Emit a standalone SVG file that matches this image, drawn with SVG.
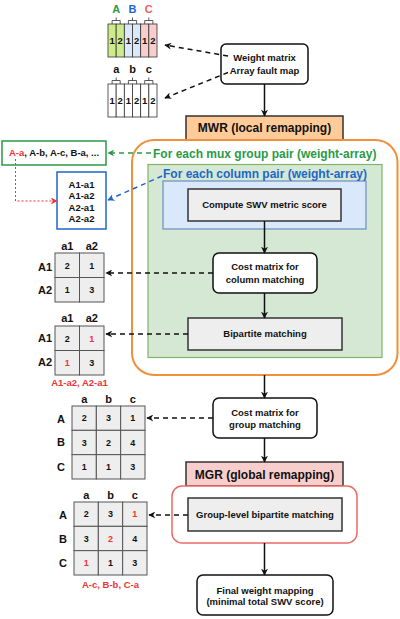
<svg xmlns="http://www.w3.org/2000/svg" width="400" height="619" viewBox="0 0 400 619">
<defs>
<style>
text{font-family:"Liberation Sans",Arial,sans-serif;font-weight:bold;fill:#111}
.t{font-size:9.5px;text-anchor:middle}
.h{font-size:11px;text-anchor:middle}
.big{font-size:12px}
.c{font-size:9px;text-anchor:middle}
.red{fill:#ee3333}
.box{fill:#fff;stroke:#111;stroke-width:1.5}
.gray{fill:#eeeeee;stroke:#333;stroke-width:1.5}
.cell{fill:#eeeeee;stroke:#555;stroke-width:1}
.col{stroke:#333;stroke-width:0.8}
.br{fill:none;stroke:#333;stroke-width:0.8}
.solid{fill:none;stroke:#111;stroke-width:1.5;marker-end:url(#ah)}
.dash{fill:none;stroke:#111;stroke-width:1.5;stroke-dasharray:5,4;marker-end:url(#ah)}
</style>
<marker id="ah" viewBox="0 0 10 10" refX="9" refY="5" markerWidth="7" markerHeight="7" orient="auto" markerUnits="userSpaceOnUse">
<path d="M0,0 L10,5 L0,10 L3,5 Z" fill="#111"/>
</marker>
<marker id="ahg" viewBox="0 0 10 10" refX="9" refY="5" markerWidth="7" markerHeight="7" orient="auto" markerUnits="userSpaceOnUse">
<path d="M0,0 L10,5 L0,10 L3,5 Z" fill="#2a9a46"/>
</marker>
<marker id="ahb" viewBox="0 0 10 10" refX="9" refY="5" markerWidth="7" markerHeight="7" orient="auto" markerUnits="userSpaceOnUse">
<path d="M0,0 L10,5 L0,10 L3,5 Z" fill="#1f66cc"/>
</marker>
<marker id="ahr" viewBox="0 0 10 10" refX="9" refY="5" markerWidth="7" markerHeight="7" orient="auto" markerUnits="userSpaceOnUse">
<path d="M0,0 L10,5 L0,10 L3,5 Z" fill="#ee3333"/>
</marker>
</defs>
<rect width="400" height="619" fill="#fff"/>

<!-- arrays -->
<g id="array-weight">
<text class="h" x="116.2" y="12.5" style="fill:#2a9a46">A</text>
<text class="h" x="132.5" y="12.5" style="fill:#1f66cc">B</text>
<text class="h" x="148.8" y="12.5" style="fill:#f06060">C</text>
<path class="br" d="M112.1,24V20.5H120.2V24M116.2,20.5V17.5M128.4,24V20.5H136.6V24M132.5,20.5V17.5M144.7,24V20.5H152.9V24M148.8,20.5V17.5"/>
<rect class="col" x="108" y="24" width="8.17" height="33" fill="#cdeb8b"/>
<rect class="col" x="116.17" y="24" width="8.17" height="33" fill="#cdeb8b"/>
<rect class="col" x="124.33" y="24" width="8.17" height="33" fill="#dae8fc"/>
<rect class="col" x="132.5" y="24" width="8.17" height="33" fill="#dae8fc"/>
<rect class="col" x="140.67" y="24" width="8.17" height="33" fill="#f8cecc"/>
<rect class="col" x="148.83" y="24" width="8.17" height="33" fill="#f8cecc"/>
<text class="t" x="112.1" y="44">1</text><text class="t" x="120.2" y="44">2</text>
<text class="t" x="128.4" y="44">1</text><text class="t" x="136.6" y="44">2</text>
<text class="t" x="144.7" y="44">1</text><text class="t" x="152.9" y="44">2</text>
</g>
<g id="array-fault">
<text class="h" x="116.2" y="73">a</text>
<text class="h" x="132.5" y="73">b</text>
<text class="h" x="148.8" y="73">c</text>
<path class="br" d="M112.1,84V80.5H120.2V84M116.2,80.5V77.5M128.4,84V80.5H136.6V84M132.5,80.5V77.5M144.7,84V80.5H152.9V84M148.8,80.5V77.5"/>
<rect class="col" x="108" y="84" width="8.17" height="33" fill="#fff"/>
<rect class="col" x="116.17" y="84" width="8.17" height="33" fill="#fff"/>
<rect class="col" x="124.33" y="84" width="8.17" height="33" fill="#fff"/>
<rect class="col" x="132.5" y="84" width="8.17" height="33" fill="#fff"/>
<rect class="col" x="140.67" y="84" width="8.17" height="33" fill="#fff"/>
<rect class="col" x="148.83" y="84" width="8.17" height="33" fill="#fff"/>
<text class="t" x="112.1" y="104">1</text><text class="t" x="120.2" y="104">2</text>
<text class="t" x="128.4" y="104">1</text><text class="t" x="136.6" y="104">2</text>
<text class="t" x="144.7" y="104">1</text><text class="t" x="152.9" y="104">2</text>
</g>

<!-- main flow -->
<g id="input">
<rect class="box" x="221" y="44" width="87" height="40" rx="5"/>
<text class="t" x="264.5" y="61.4">Weight matrix</text>
<text class="t" x="264.5" y="74.4">Array fault map</text>
</g>
<g id="mwr">
<rect x="186" y="116" width="157" height="24" fill="#ffcc99" stroke="#333" stroke-width="1.5"/>
<text class="big" x="264.5" y="132.3" text-anchor="middle">MWR (local remapping)</text>
</g>
<g id="mux-loop">
<rect x="132" y="140" width="265.5" height="235" rx="22" fill="#fff" stroke="#f0903a" stroke-width="2"/>
<text class="big" x="153" y="158.3" style="fill:#2a9a46">For each mux group pair (weight-array)</text>
</g>
<g id="column-loop">
<rect x="148" y="164.5" width="234" height="193" fill="#d5e8d4" stroke="#82b366" stroke-width="1.2"/>
<rect x="163" y="181" width="203" height="48" fill="#dae8fc" stroke="#6c8ebf" stroke-width="1.2"/>
<text class="big" x="163" y="178.3" style="fill:#1f66cc">For each column pair (weight-array)</text>
</g>
<g id="swv">
<rect class="gray" x="188" y="189" width="153" height="32"/>
<text class="t" x="264.5" y="208.4">Compute SWV metric score</text>
</g>
<g id="cost-col">
<rect class="box" x="213" y="253" width="104" height="40" rx="6"/>
<text class="t" x="265" y="270.4">Cost matrix for</text>
<text class="t" x="265" y="283">column matching</text>
</g>
<g id="bipartite">
<rect class="gray" x="188" y="318" width="154" height="32"/>
<text class="t" x="265" y="337.4">Bipartite matching</text>
</g>
<g id="cost-group">
<rect class="box" x="213" y="398" width="104" height="40" rx="6"/>
<text class="t" x="265" y="415.9">Cost matrix for</text>
<text class="t" x="265" y="427.9">group matching</text>
</g>
<g id="mgr">
<rect x="186" y="462" width="157" height="24" fill="#f8cecc" stroke="#333" stroke-width="1.5"/>
<text class="big" x="264.5" y="479.3" text-anchor="middle">MGR (global remapping)</text>
</g>
<g id="mgr-box">
<rect x="172" y="486" width="185" height="57" rx="10" fill="#fff" stroke="#ea6b66" stroke-width="1.5"/>
</g>
<g id="group-bipartite">
<rect class="gray" x="188" y="498" width="154" height="33"/>
<text class="t" x="265" y="518.4">Group-level bipartite matching</text>
</g>
<g id="final">
<rect class="box" x="197" y="575" width="136" height="40" rx="6"/>
<text class="t" x="265" y="594.2">Final weight mapping</text>
<text class="t" x="265" y="605.2">(minimal total SWV score)</text>
</g>

<!-- left annotations -->
<g id="pairs-group">
<rect x="2" y="141" width="104" height="24" fill="#fff" stroke="#2a9a46" stroke-width="1.5"/>
<text class="t" x="54" y="156.4"><tspan class="red">A-a</tspan>, A-b, A-c, B-a, ...</text>
</g>
<g id="pairs-col">
<rect x="57" y="172" width="49" height="57" fill="#fff" stroke="#1f66cc" stroke-width="1.5"/>
<text class="t" x="81.5" y="187.7">A1-a1</text>
<text class="t" x="81.5" y="199.2">A1-a2</text>
<text class="t" x="81.5" y="210.7">A2-a1</text>
<text class="t" x="81.5" y="222.2">A2-a2</text>
</g>
<g id="matrix-col">
<text class="h" x="67.25" y="250">a1</text><text class="h" x="91.75" y="250">a2</text>
<text class="h" x="52" y="271" text-anchor="end" style="text-anchor:end">A1</text>
<text class="h" x="52" y="294" style="text-anchor:end">A2</text>
<rect class="cell" x="55" y="253" width="24.5" height="24.5"/><rect class="cell" x="79.5" y="253" width="24.5" height="24.5"/>
<rect class="cell" x="55" y="277.5" width="24.5" height="24.5"/><rect class="cell" x="79.5" y="277.5" width="24.5" height="24.5"/>
<text class="c" x="67.25" y="268.5">2</text><text class="c" x="91.75" y="268.5">1</text>
<text class="c" x="67.25" y="293">1</text><text class="c" x="91.75" y="293">3</text>
</g>
<g id="matrix-col-match">
<text class="h" x="67.25" y="322">a1</text><text class="h" x="91.75" y="322">a2</text>
<text class="h" x="52" y="342" style="text-anchor:end">A1</text>
<text class="h" x="52" y="366" style="text-anchor:end">A2</text>
<rect class="cell" x="55" y="326" width="24.5" height="24.5"/><rect class="cell" x="79.5" y="326" width="24.5" height="24.5"/>
<rect class="cell" x="55" y="350.5" width="24.5" height="24.5"/><rect class="cell" x="79.5" y="350.5" width="24.5" height="24.5"/>
<text class="c" x="67.25" y="341.5">2</text><text class="c red" x="91.75" y="341.5">1</text>
<text class="c red" x="67.25" y="366">1</text><text class="c" x="91.75" y="366">3</text>
<text class="t red" x="79.5" y="385.6">A1-a2, A2-a1</text>
</g>
<g id="matrix-group">
<text class="h" x="84.2" y="403">a</text><text class="h" x="108.5" y="403">b</text><text class="h" x="132.8" y="403">c</text>
<text class="h" x="61" y="423">A</text><text class="h" x="61" y="446">B</text><text class="h" x="61" y="471">C</text>
<rect class="cell" x="72" y="406" width="24.33" height="24.33"/><rect class="cell" x="96.33" y="406" width="24.33" height="24.33"/><rect class="cell" x="120.67" y="406" width="24.33" height="24.33"/>
<rect class="cell" x="72" y="430.33" width="24.33" height="24.33"/><rect class="cell" x="96.33" y="430.33" width="24.33" height="24.33"/><rect class="cell" x="120.67" y="430.33" width="24.33" height="24.33"/>
<rect class="cell" x="72" y="454.67" width="24.33" height="24.33"/><rect class="cell" x="96.33" y="454.67" width="24.33" height="24.33"/><rect class="cell" x="120.67" y="454.67" width="24.33" height="24.33"/>
<text class="c" x="84.2" y="421.4">2</text><text class="c" x="108.5" y="421.4">3</text><text class="c" x="132.8" y="421.4">1</text>
<text class="c" x="84.2" y="445.7">3</text><text class="c" x="108.5" y="445.7">2</text><text class="c" x="132.8" y="445.7">4</text>
<text class="c" x="84.2" y="470">1</text><text class="c" x="108.5" y="470">1</text><text class="c" x="132.8" y="470">3</text>
</g>
<g id="matrix-group-match">
<text class="h" x="86.2" y="499">a</text><text class="h" x="110.5" y="499">b</text><text class="h" x="134.8" y="499">c</text>
<text class="h" x="63" y="519">A</text><text class="h" x="63" y="542.5">B</text><text class="h" x="63" y="567">C</text>
<rect class="cell" x="74" y="502" width="24.33" height="24.33"/><rect class="cell" x="98.33" y="502" width="24.33" height="24.33"/><rect class="cell" x="122.67" y="502" width="24.33" height="24.33"/>
<rect class="cell" x="74" y="526.33" width="24.33" height="24.33"/><rect class="cell" x="98.33" y="526.33" width="24.33" height="24.33"/><rect class="cell" x="122.67" y="526.33" width="24.33" height="24.33"/>
<rect class="cell" x="74" y="550.67" width="24.33" height="24.33"/><rect class="cell" x="98.33" y="550.67" width="24.33" height="24.33"/><rect class="cell" x="122.67" y="550.67" width="24.33" height="24.33"/>
<text class="c" x="86.2" y="517.4">2</text><text class="c" x="110.5" y="517.4">3</text><text class="c red" x="134.8" y="517.4">1</text>
<text class="c" x="86.2" y="541.7">3</text><text class="c red" x="110.5" y="541.7">2</text><text class="c" x="134.8" y="541.7">4</text>
<text class="c red" x="86.2" y="566">1</text><text class="c" x="110.5" y="566">1</text><text class="c" x="134.8" y="566">3</text>
<text class="t red" x="110.5" y="587.5">A-c, B-b, C-a</text>
</g>

<g id="connectors">
<path class="solid" d="M264.5,84V116"/>
<path class="solid" d="M264.5,221V253"/>
<path class="solid" d="M264.5,293V318"/>
<path class="solid" d="M264.5,375V398"/>
<path class="solid" d="M264.5,438V462"/>
<path class="solid" d="M264.5,543V575"/>
<path class="dash" d="M228,56L165,45"/>
<path class="dash" d="M228,72.5L165,98"/>
<path class="dash" d="M213,273H106"/>
<path class="dash" d="M188,334H106"/>
<path class="dash" d="M213,418H147"/>
<path class="dash" d="M188,515H149"/>
<path d="M151,153H108" fill="none" stroke="#2a9a46" stroke-width="1.5" stroke-dasharray="5,4" marker-end="url(#ahg)"/>
<path d="M162,176L108,200" fill="none" stroke="#1f66cc" stroke-width="1.5" stroke-dasharray="5,4" marker-end="url(#ahb)"/>
<path d="M15.5,159V201H57" fill="none" stroke="#ee3333" stroke-width="1" stroke-dasharray="2,2" marker-end="url(#ahr)"/>
</g>
</svg>
